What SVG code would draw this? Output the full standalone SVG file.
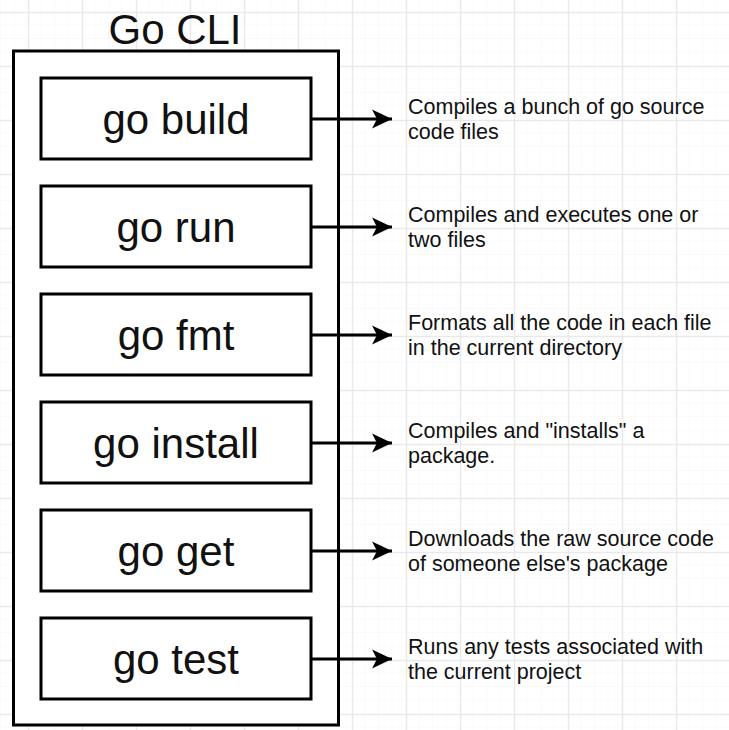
<svg xmlns="http://www.w3.org/2000/svg" width="729" height="730" viewBox="0 0 729 730">
<defs>
<pattern id="minor" x="1" y="-1.5" width="13.5" height="13.5" patternUnits="userSpaceOnUse">
<path d="M13.5 0V13.5M0 13.5H13.5" fill="none" stroke="#f6f6f6" stroke-width="1"/>
</pattern>
<pattern id="major" x="28" y="12" width="54" height="54" patternUnits="userSpaceOnUse">
<path d="M0.5 0V54M0 0.5H54" fill="none" stroke="#e9e9e9" stroke-width="1.5"/>
</pattern>
<marker id="arrow" viewBox="0 0 20 20" refX="20" refY="10" markerWidth="20" markerHeight="20" markerUnits="userSpaceOnUse" orient="auto">
<path d="M20 10L0 0.5L5 10L0 19.5Z" fill="#000"/>
</marker>
</defs>
<style>
.box{fill:#fff;stroke:#000;stroke-width:3}
.lbl{font-family:"Liberation Sans",Arial,sans-serif;font-size:42px;fill:#111;text-anchor:middle}
.desc{font-family:"Liberation Sans",Arial,sans-serif;font-size:21.5px;fill:#111}
.conn{stroke:#000;stroke-width:3;fill:none;marker-end:url(#arrow)}
</style>
<rect width="729" height="730" fill="#fff"/>
<rect width="729" height="730" fill="url(#minor)"/>
<rect width="729" height="730" fill="url(#major)"/>
<g id="go-cli">
<rect class="box" x="13.5" y="51" width="325" height="674"/>
<text class="lbl" x="175" y="44">Go CLI</text>
</g>
<g id="go-build">
<rect class="box" x="41" y="78" width="270" height="81"/>
<text class="lbl" x="176" y="134">go build</text>
</g>
<g id="go-run">
<rect class="box" x="41" y="186" width="270" height="81"/>
<text class="lbl" x="176" y="242">go run</text>
</g>
<g id="go-fmt">
<rect class="box" x="41" y="294" width="270" height="81"/>
<text class="lbl" x="176" y="350">go fmt</text>
</g>
<g id="go-install">
<rect class="box" x="41" y="402" width="270" height="81"/>
<text class="lbl" x="176" y="458">go install</text>
</g>
<g id="go-get">
<rect class="box" x="41" y="510" width="270" height="81"/>
<text class="lbl" x="176" y="566">go get</text>
</g>
<g id="go-test">
<rect class="box" x="41" y="618" width="270" height="81"/>
<text class="lbl" x="176" y="674">go test</text>
</g>
<g id="connectors">
<path class="conn" d="M311 119H392"/>
<path class="conn" d="M311 227H392"/>
<path class="conn" d="M311 335H392"/>
<path class="conn" d="M311 443H392"/>
<path class="conn" d="M311 551H392"/>
<path class="conn" d="M311 659H392"/>
</g>
<g id="desc-build"><text class="desc" x="408" y="114">Compiles a bunch of go source</text><text class="desc" x="408" y="139">code files</text></g>
<g id="desc-run"><text class="desc" x="408" y="222">Compiles and executes one or</text><text class="desc" x="408" y="247">two files</text></g>
<g id="desc-fmt"><text class="desc" x="408" y="330">Formats all the code in each file</text><text class="desc" x="408" y="355">in the current directory</text></g>
<g id="desc-install"><text class="desc" x="408" y="438">Compiles and "installs" a</text><text class="desc" x="408" y="463">package.</text></g>
<g id="desc-get"><text class="desc" x="408" y="546">Downloads the raw source code</text><text class="desc" x="408" y="571">of someone else's package</text></g>
<g id="desc-test"><text class="desc" x="408" y="654">Runs any tests associated with</text><text class="desc" x="408" y="679">the current project</text></g>
</svg>
